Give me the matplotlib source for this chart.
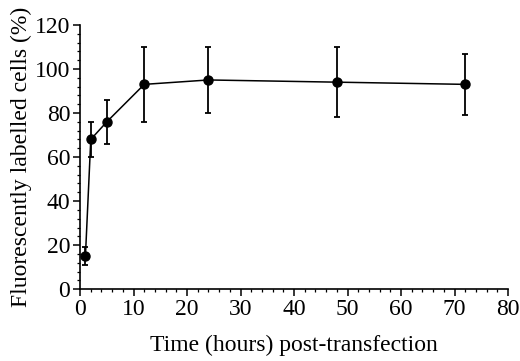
import matplotlib.pyplot as plt
from matplotlib.ticker import MultipleLocator

time_hours = [1, 2, 5, 12, 24, 48, 72]
labelled_pct = [15, 68, 76, 93, 95, 94, 93]
error_pct = [4, 8, 10, 17, 15, 16, 14]

plt.rcParams["font.family"] = ["Liberation Serif", "DejaVu Serif"]

fig = plt.figure(figsize=(5.2, 3.61), dpi=100)
ax = fig.add_axes([0.154, 0.199, 0.823, 0.732])

ax.errorbar(time_hours, labelled_pct, yerr=error_pct, color="black",
            marker="o", markersize=6.5, linewidth=1.1, elinewidth=1.3,
            capsize=2.5, capthick=1.3)

ax.set_xlim(0, 80)
ax.set_ylim(0, 120)
ax.xaxis.set_major_locator(MultipleLocator(10))
ax.xaxis.set_minor_locator(MultipleLocator(2))
ax.yaxis.set_major_locator(MultipleLocator(20))
ax.yaxis.set_minor_locator(MultipleLocator(4))

for side in ["top", "right"]:
    ax.spines[side].set_visible(False)
for side in ["left", "bottom"]:
    ax.spines[side].set_linewidth(1.2)

ax.tick_params(which="major", direction="out", length=5, width=1.1,
               labelsize=17, pad=2)
ax.tick_params(which="minor", direction="out", length=2.5, width=0.9)

ax.set_xlabel("Time (hours) post-transfection", fontsize=17, labelpad=11)
ax.set_ylabel("Fluorescently labelled cells (%)", fontsize=17, labelpad=2)

fig.savefig("out.png", dpi=100)
